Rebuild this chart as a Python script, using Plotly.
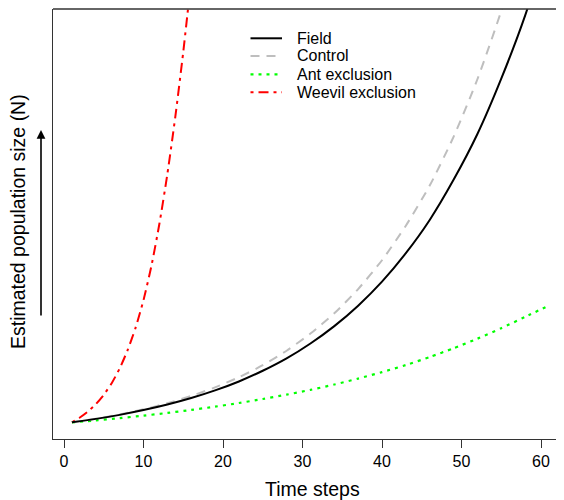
import plotly.graph_objects as go

# ---- data (arbitrary N units, N(1)=1) ----
t_main = [1, 4, 7, 10, 13, 16, 19, 22, 25, 28, 31, 34, 37, 40, 43, 46, 49, 52, 55, 58, 61]
field = [1.0, 1.18, 1.39, 1.64, 1.93, 2.27, 2.67, 3.14, 3.70, 4.35, 5.13, 6.04, 7.11,
         8.37, 9.86, 11.6, 13.7, 16.1, 19.0, 22.3, 26.3]
control = [1.0, 1.19, 1.41, 1.68, 2.0, 2.38, 2.83, 3.36, 3.99, 4.75, 5.65, 6.71, 7.98,
           9.49, 11.3, 13.4, 15.95, 18.97, 22.55, 26.8, 31.9]
ant_excl = [1.0, 1.10, 1.22, 1.35, 1.49, 1.65, 1.82, 2.01, 2.22, 2.45, 2.70, 2.98, 3.29,
            3.63, 4.0, 4.42, 4.88, 5.38, 5.93, 6.52, 7.12]
t_weevil = list(range(1, 17))
weevil_excl = [1.0, 1.25, 1.56, 1.95, 2.44, 3.05, 3.82, 4.78, 5.95, 7.4, 9.2, 11.4,
               14.0, 17.0, 20.4, 24.2]

x_ticks = [0, 10, 20, 30, 40, 50, 60]
legend_labels = ["Field", "Control", "Ant exclusion", "Weevil exclusion"]

# ---- styles ----
FONT = "Liberation Sans, Arial, Helvetica, sans-serif"
styles = [
    dict(color="black", dash="solid", width=2),
    dict(color="#BEBEBE", dash="9px,7px", width=2),
    dict(color="#00FF00", dash="3px,5px", width=2.2),
    dict(color="#FF0000", dash="3px,5px,10px,5px", width=2),
]

fig = go.Figure()
series = [(t_main, field), (t_main, control), (t_main, ant_excl), (t_weevil, weevil_excl)]
for idx in [3, 2, 1, 0]:
    xs, ys = series[idx]
    fig.add_trace(go.Scatter(
        x=xs, y=ys, mode="lines", name=legend_labels[idx],
        line=dict(shape="spline", smoothing=0.6, **styles[idx]),
        showlegend=False, hoverinfo="skip",
    ))

# the page body adds an 8px offset, so the figure is 8px smaller
OFF = 8
W, H = 564 - OFF, 500 - OFF
L, R, T, B = 53 - OFF, 0, 1, 61
pw, ph = W - L - R, H - T - B


def px_x(p):
    return (p - OFF - L) / pw


def px_y(p):
    return (H - B - (p - OFF)) / ph


shapes = []
annotations = []
row_y = [38.3, 56.0, 74.3, 92.3]
for i, lab in enumerate(legend_labels):
    yy = px_y(row_y[i])
    shapes.append(dict(type="line", xref="paper", yref="paper",
                       x0=px_x(250.5), x1=px_x(282), y0=yy, y1=yy,
                       line=styles[i]))
    annotations.append(dict(xref="paper", yref="paper", x=px_x(295), y=yy,
                            text=lab, showarrow=False, xanchor="left", yanchor="middle",
                            font=dict(family=FONT, size=16, color="black")))

# top border of the box
shapes.append(dict(type="line", xref="paper", yref="paper", x0=0, x1=1, y0=1, y1=1,
                   line=dict(color="#333333", width=1.3)))

# y axis title and arrow
annotations.append(dict(xref="paper", yref="paper", x=px_x(18), y=px_y(222),
                        text="Estimated population size (N)", textangle=-90,
                        showarrow=False, xanchor="center", yanchor="middle",
                        font=dict(family=FONT, size=19.5, color="black")))
annotations.append(dict(xref="paper", yref="paper", x=px_x(41), y=px_y(130),
                        text="", showarrow=True, ax=0, ay=187, axref="pixel", ayref="pixel",
                        arrowhead=2, arrowsize=1.1, arrowwidth=1.6, arrowcolor="black",
                        standoff=0, startstandoff=0))
# x axis title
annotations.append(dict(xref="paper", yref="paper", x=px_x(312), y=px_y(489),
                        text="Time steps", showarrow=False, xanchor="center",
                        yanchor="middle",
                        font=dict(family=FONT, size=19.5, color="black")))

x_scale = 7.95          # pixels per time step in the reference
x0_px = 64 - OFF        # pixel of t = 0 within the figure
fig.update_layout(
    width=W, height=H,
    margin=dict(l=L, r=R, t=T, b=B, pad=0),
    paper_bgcolor="white", plot_bgcolor="white",
    showlegend=False,
    shapes=shapes, annotations=annotations,
    xaxis=dict(range=[(L - x0_px) / x_scale, (W - x0_px) / x_scale], tickvals=x_ticks,
               ticktext=[str(v) for v in x_ticks],
               showgrid=False, zeroline=False, showline=True, linecolor="#333333",
               linewidth=1.3, ticks="outside", ticklen=8, tickwidth=1.2,
               tickcolor="#333333", tickfont=dict(family=FONT, size=16, color="black"),
               fixedrange=True),
    yaxis=dict(range=[0.126, 22.65], showticklabels=False, ticks="",
               showgrid=False, zeroline=False, showline=True, linecolor="#333333",
               linewidth=1.3, fixedrange=True),
)

fig.write_html("out.html")
